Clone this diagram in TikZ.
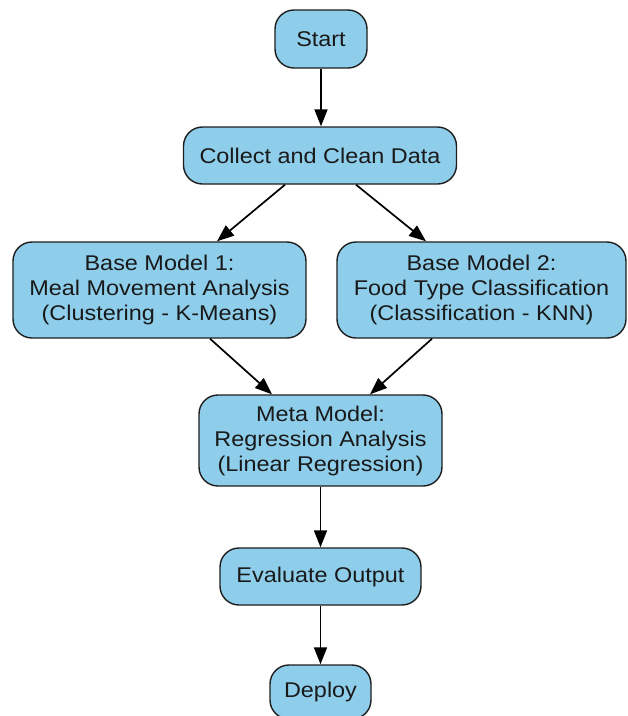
\documentclass[tikz,border=0pt]{standalone}
\usepackage{fontspec}
\setmainfont{Liberation Sans}[FakeStretch=1.1]
\usetikzlibrary{arrows.meta}
\definecolor{boxfill}{RGB}{142,206,235}
\definecolor{boxline}{RGB}{30,30,30}
\definecolor{txt}{RGB}{25,25,25}
\begin{document}
\begin{tikzpicture}[x=1pt,y=-1pt,
  flowbox/.style={draw=boxline, fill=boxfill, line width=1.4pt, rounded corners=19pt,
    align=center, inner sep=0pt, text=txt, font=\fontsize{21.3}{25}\selectfont},
  flowarrow/.style={draw=black, line width=1.7pt, -{Triangle[length=17pt,width=13pt]}}]
\useasboundingbox (0,0) rectangle (628,716);
\fill[white] (0,0) rectangle (628,716);

\node[flowbox, minimum width=92pt, minimum height=58pt] (start) at (321,39) {Start};
\node[flowbox, minimum width=273pt, minimum height=57pt] (collect) at (320,155.5) {Collect and Clean Data};
\node[flowbox, minimum width=293pt, minimum height=96pt] (base1) at (159.5,290) {Base Model 1:\\Meal Movement Analysis\\(Clustering - K-Means)};
\node[flowbox, minimum width=289pt, minimum height=96pt] (base2) at (481.5,290) {Base Model 2:\\Food Type Classification\\(Classification - KNN)};
\node[flowbox, minimum width=243pt, minimum height=91pt] (meta) at (320.5,440.5) {Meta Model:\\Regression Analysis\\(Linear Regression)};
\node[flowbox, minimum width=201pt, minimum height=57pt] (eval) at (320.5,576.5) {Evaluate Output};
\node[flowbox, minimum width=101pt, minimum height=54pt] (deploy) at (320.5,692) {Deploy};

\draw[flowarrow] (start.south) -- (start.south |- collect.north);
\draw[flowarrow] ([xshift=-35pt]collect.south) -- ([xshift=57.5pt]base1.north);
\draw[flowarrow] ([xshift=36pt]collect.south) -- ([xshift=-55.5pt]base2.north);
\draw[flowarrow] ([xshift=50.5pt]base1.south) -- ([xshift=-48.5pt]meta.north);
\draw[flowarrow] ([xshift=-49.5pt]base2.south) -- ([xshift=49.5pt]meta.north);
\draw[flowarrow] (meta.south) -- (meta.south |- eval.north);
\draw[flowarrow] (eval.south) -- (eval.south |- deploy.north);
\end{tikzpicture}
\end{document}
